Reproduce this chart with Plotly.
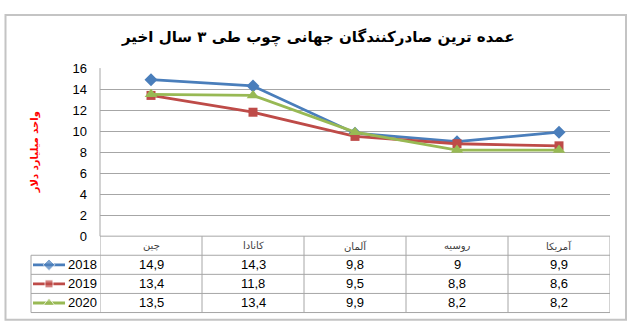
import plotly.graph_objects as go

# ---- data ----
categories = ["چین", "کانادا", "آلمان", "روسیه", "آمریکا"]
years = ["2018", "2019", "2020"]
v2018 = [14.9, 14.3, 9.8, 9, 9.9]
v2019 = [13.4, 11.8, 9.5, 8.8, 8.6]
v2020 = [13.5, 13.4, 9.9, 8.2, 8.2]
y_ticks = [0, 2, 4, 6, 8, 10, 12, 14, 16]
title_text = "عمده ترین صادرکنندگان جهانی چوب طی ۳ سال اخیر"
y_title = "واحد میلیارد دلار"

series = [v2018, v2019, v2020]
colors = ["#4A7EBB", "#BE4B48", "#98B954"]
symbols = ["diamond", "square", "triangle-up"]
msizes = [10, 9, 11]

W, H = 631, 332
def px(x):
    return x / W
def py(y):
    return 1 - y / H

FA = "DejaVu Sans"
NUM = "Liberation Sans"
GRID = "#A6A6A6"

fig = go.Figure()

for name, vals, c, s, ms in zip(years, series, colors, symbols, msizes):
    fig.add_trace(go.Scatter(
        x=categories, y=vals, mode="lines+markers", name=name,
        line=dict(color=c, width=2.8),
        marker=dict(symbol=s, size=ms, color=c),
        showlegend=False, xaxis="x", yaxis="y", cliponaxis=False))

# legend keys drawn in the table's first column (own small axes in pixel units)
row_y = [270, 290, 310]
for name, c, s, ms, ry in zip(years, colors, symbols, msizes, row_y):
    fig.add_trace(go.Scatter(
        x=[33, 49, 65], y=[ry, ry, ry], mode="lines+markers",
        line=dict(color=c, width=2.8),
        marker=dict(symbol=s, size=[0, ms - 1, 0], color=c),
        showlegend=False, xaxis="x2", yaxis="y2", hoverinfo="skip"))

shapes = []
# outer frame
shapes.append(dict(type="rect", xref="paper", yref="paper",
                   x0=px(5.5), x1=px(626), y0=py(327.5), y1=py(8.5),
                   line=dict(color="#C4C4C4", width=2)))
# table horizontal lines
shapes.append(dict(type="line", xref="paper", yref="paper",
                   x0=px(100), x1=px(610), y0=py(240), y1=py(240),
                   line=dict(color=GRID, width=1)))
for yy in [260, 280, 300, 320]:
    shapes.append(dict(type="line", xref="paper", yref="paper",
                       x0=px(31), x1=px(610), y0=py(yy), y1=py(yy),
                       line=dict(color=GRID, width=1)))
# table vertical lines
shapes.append(dict(type="line", xref="paper", yref="paper",
                   x0=px(31), x1=px(31), y0=py(260), y1=py(320),
                   line=dict(color=GRID, width=1)))
for i in range(len(categories) + 1):
    shapes.append(dict(type="line", xref="x", yref="paper",
                       x0=i - 0.5, x1=i - 0.5, y0=py(240), y1=py(320),
                       line=dict(color=GRID, width=1)))
# left axis line
shapes.append(dict(type="line", xref="paper", yref="paper",
                   x0=px(100), x1=px(100), y0=py(64), y1=py(240),
                   line=dict(color=GRID, width=1)))

annotations = []
annotations.append(dict(text=title_text, x=px(318), y=py(32), xref="paper", yref="paper",
                        showarrow=False, xanchor="center", yanchor="middle",
                        font=dict(family=FA, size=15, color="black", weight="bold")))
annotations.append(dict(text=y_title, x=px(35), y=py(152), xref="paper", yref="paper",
                        showarrow=False, textangle=-90, xanchor="center", yanchor="middle",
                        font=dict(family=FA, size=10, color="#FF0000", weight="bold")))
# category header row
for cat in categories:
    annotations.append(dict(text=cat, x=cat, y=py(250), xref="x", yref="paper",
                            showarrow=False, xanchor="center", yanchor="middle",
                            font=dict(family=FA, size=10, color="#404040")))
# values rows
def fmt(v):
    return ("%g" % v).replace(".", ",")
for vals, ry in zip(series, row_y):
    for cat, v in zip(categories, vals):
        annotations.append(dict(text=fmt(v), x=cat, y=py(ry), xref="x", yref="paper",
                                showarrow=False, xanchor="center", yanchor="middle",
                                font=dict(family=NUM, size=13, color="black")))
# legend labels
for name, ry in zip(years, row_y):
    annotations.append(dict(text=name, x=px(66), y=py(ry), xref="paper", yref="paper",
                            showarrow=False, xanchor="left", yanchor="middle",
                            font=dict(family=NUM, size=13, color="black")))

fig.update_layout(
    width=W, height=H,
    margin=dict(l=0, r=0, t=0, b=0),
    paper_bgcolor="white", plot_bgcolor="white",
    xaxis=dict(type="category", range=[-0.5, len(categories) - 0.5],
               domain=[px(100), px(610)], showgrid=False, showticklabels=False,
               zeroline=False, showline=False, fixedrange=True),
    yaxis=dict(range=[0, 16], tickvals=y_ticks, domain=[py(240), py(64)],
               showgrid=True, gridcolor=GRID, gridwidth=1, zeroline=False,
               showline=False, ticks="", ticklabelstandoff=12,
               tickfont=dict(family=NUM, size=13, color="black"), fixedrange=True),
    xaxis2=dict(domain=[px(31), px(100)], range=[31, 100], visible=False, fixedrange=True),
    yaxis2=dict(domain=[py(320), py(260)], range=[320, 260], visible=False,
                anchor="x2", fixedrange=True),
    shapes=shapes, annotations=annotations,
)

fig.write_html("out.html")
